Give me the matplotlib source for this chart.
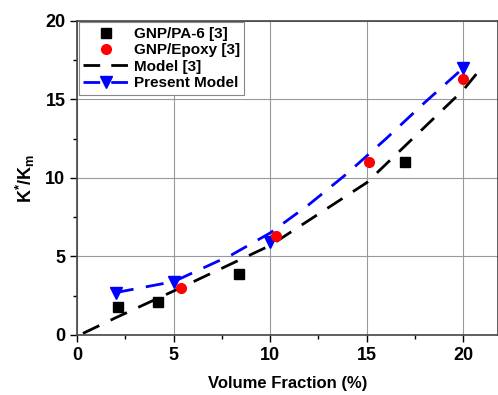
import matplotlib
matplotlib.use("Agg")
import matplotlib.pyplot as plt
from matplotlib.lines import Line2D

plt.rcParams['font.family'] = ['Liberation Sans', 'DejaVu Sans']
plt.rcParams['font.weight'] = 'bold'
plt.rcParams['mathtext.fontset'] = 'custom'
plt.rcParams['mathtext.bf'] = 'Liberation Sans:bold'
plt.rcParams['mathtext.rm'] = 'Liberation Sans:bold'

# data
pa6_x = [2.1, 4.2, 8.4, 17.0]
pa6_y = [1.8, 2.1, 3.9, 11.0]

epoxy_x = [5.4, 10.3, 15.1, 20.0]
epoxy_y = [3.0, 6.3, 11.0, 16.3]

model_x = [0.3, 2, 5, 10, 15, 20, 21]
model_y = [0.1, 1.1, 2.8, 5.7, 9.7, 15.6, 17.1]

present_x = [2, 5, 8, 10, 12, 14, 16, 18, 20]
present_y = [2.7, 3.4, 5.1, 6.5, 8.3, 10.3, 12.5, 14.8, 17.0]
present_mx = [2, 5, 10, 20]
present_my = [2.7, 3.4, 5.9, 17.0]

fig = plt.figure(figsize=(4.98, 3.95), dpi=100)
ax = fig.add_axes([0.155, 0.152, 0.845, 0.795])

ax.grid(True, color='#999999', linewidth=0.8)
ax.set_axisbelow(True)

ax.plot(model_x, model_y, color='black', linestyle=(0, (6.5, 4.5)), linewidth=2)
ax.plot(present_x, present_y, color='blue', linestyle=(0, (6.5, 4.5)), linewidth=2)
ax.plot(present_mx, present_my, 'v', color='blue', markersize=8, linestyle='none')
ax.plot(pa6_x, pa6_y, 's', color='black', markersize=7, linestyle='none')
ax.plot(epoxy_x, epoxy_y, 'o', color='red', markersize=7, linestyle='none')

handles = [
    Line2D([], [], marker='s', color='black', markersize=7, linestyle='none'),
    Line2D([], [], marker='o', color='red', markersize=7, linestyle='none'),
    Line2D([], [], color='black', linestyle=(0, (6, 4)), linewidth=2),
    Line2D([], [], color='blue', linestyle=(0, (6, 4)), linewidth=2, marker='v', markersize=8),
]
labels = ['GNP/PA-6 [3]', 'GNP/Epoxy [3]', 'Model [3]', 'Present Model']
leg = ax.legend(handles, labels, loc='upper left', fontsize=11, fancybox=False,
                framealpha=1, edgecolor='#888888', borderaxespad=0.1,
                handlelength=3, handletextpad=0.3, labelspacing=0.15,
                borderpad=0.3)
leg.get_frame().set_linewidth(0.8)

ax.set_xlim(0, 21.8)
ax.set_ylim(0, 20)
ax.set_xticks([0, 5, 10, 15, 20])
ax.set_yticks([0, 5, 10, 15, 20])
ax.set_xticks([2.5, 7.5, 12.5, 17.5], minor=True)
ax.set_yticks([2.5, 7.5, 12.5, 17.5], minor=True)
ax.tick_params(axis='both', which='major', direction='out', length=5, width=1, labelsize=13)
ax.tick_params(axis='both', which='minor', direction='out', length=3, width=1)
for lab in ax.get_xticklabels() + ax.get_yticklabels():
    lab.set_fontweight('bold')

for s in ax.spines.values():
    s.set_color('#444444')
    s.set_linewidth(1.2)

ax.set_xlabel('Volume Fraction (%)', fontsize=12, fontweight='bold', labelpad=9)
ax.set_ylabel(r'$\mathbf{K^{*}/K_{m}}$', fontsize=13, labelpad=6)

fig.savefig('out.png', dpi=100)
